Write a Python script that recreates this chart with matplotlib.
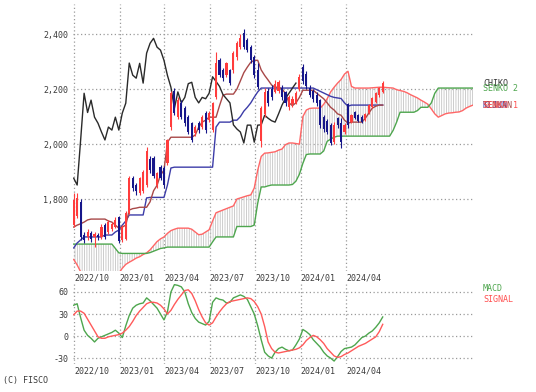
import pandas as pd
import numpy as np
import matplotlib
matplotlib.use("Agg")
import matplotlib.pyplot as plt
from matplotlib.transforms import blended_transform_factory

# ---------------------------------------------------
# weekly data, first bar = week of 2022-09-30
# ---------------------------------------------------
START = pd.Timestamp("2022-09-30")
SHIFT = 25          # lag / lead of chiko and senkou spans (weeks)

opens = [1705, 1740, 1790, 1670, 1660, 1675, 1660, 1670, 1660, 1705,
         1680, 1690, 1700, 1735, 1652, 1655, 1750, 1875, 1850, 1822,
         1830, 1850, 1945, 1949, 1850, 1916, 1913, 1931, 2062, 2195,
         2098, 2149, 2131, 2098, 2076, 2040, 2076, 2062, 2113, 2087,
         2051, 2171, 2305, 2269, 2251, 2269, 2269, 2316, 2353, 2403,
         2378, 2353, 2316, 2269, 2010, 2110, 2195, 2200, 2190, 2195,
         2205, 2190, 2135, 2145, 2150, 2200, 2280, 2255, 2205, 2195,
         2180, 2160, 2098, 2085, 2069, 2007, 2094, 2076, 2044, 2145,
         2080, 2116, 2105, 2100, 2090, 2113, 2134, 2153, 2178, 2189]
highs = [1822, 1822, 1800, 1680, 1690, 1685, 1680, 1678, 1710, 1712,
         1722, 1718, 1735, 1740, 1705, 1755, 1885, 1885, 1858, 1880,
         1905, 1990, 1955, 1955, 1900, 1925, 1920, 2020, 2195, 2205,
         2170, 2160, 2140, 2105, 2082, 2070, 2085, 2105, 2120, 2120,
         2155, 2335, 2315, 2278, 2300, 2275, 2340, 2375, 2400, 2420,
         2385, 2360, 2325, 2294, 2140, 2205, 2205, 2215, 2235, 2235,
         2215, 2195, 2180, 2175, 2195, 2255, 2290, 2265, 2215, 2200,
         2190, 2165, 2105, 2090, 2075, 2080, 2100, 2095, 2075, 2150,
         2110, 2120, 2110, 2105, 2115, 2145, 2170, 2190, 2208, 2230]
lows = [1698, 1730, 1651, 1640, 1650, 1645, 1625, 1650, 1655, 1655,
        1672, 1682, 1695, 1640, 1645, 1650, 1745, 1830, 1815, 1815,
        1822, 1845, 1895, 1875, 1840, 1870, 1840, 1925, 2050, 2105,
        2090, 2090, 2065, 2035, 2007, 2030, 2040, 2055, 2040, 2080,
        2045, 2165, 2245, 2230, 2245, 2215, 2260, 2305, 2345, 2345,
        2335, 2295, 2240, 2200, 1990, 2100, 2140, 2160, 2185, 2185,
        2160, 2140, 2125, 2135, 2145, 2195, 2220, 2200, 2170, 2155,
        2140, 2060, 2045, 2035, 1995, 2000, 2060, 1985, 2035, 2060,
        2075, 2090, 2080, 2075, 2085, 2108, 2130, 2148, 2172, 2185]
closes = [1796, 1805, 1660, 1652, 1680, 1655, 1672, 1660, 1700, 1662,
          1716, 1710, 1724, 1648, 1700, 1750, 1875, 1840, 1830, 1876,
          1898, 1975, 1905, 1885, 1895, 1876, 1851, 2015, 2185, 2115,
          2160, 2098, 2076, 2044, 2015, 2062, 2051, 2098, 2051, 2113,
          2149, 2295, 2251, 2240, 2294, 2222, 2331, 2367, 2385, 2353,
          2342, 2305, 2250, 2207, 2130, 2190, 2150, 2170, 2220, 2225,
          2170, 2150, 2170, 2165, 2185, 2245, 2228, 2210, 2180, 2165,
          2150, 2070, 2055, 2044, 2004, 2069, 2069, 2007, 2069, 2070,
          2105, 2094, 2085, 2080, 2110, 2142, 2167, 2185, 2204, 2222]

tenkan = [1698, 1705, 1710, 1716, 1724, 1727, 1727, 1727, 1727, 1727,
          1720, 1716, 1705, 1694, 1698, 1705, 1760, 1765, 1767, 1770,
          1770, 1770, 1790, 1830, 1850, 1887, 1905, 2007, 2025, 2025,
          2025, 2025, 2025, 2025, 2025, 2033, 2062, 2080, 2087, 2098,
          2098, 2098, 2140, 2178, 2182, 2182, 2182, 2200, 2230, 2260,
          2280, 2298, 2305, 2305, 2270, 2250, 2233, 2215, 2207, 2207,
          2200, 2185, 2150, 2140, 2150, 2170, 2196, 2196, 2196, 2196,
          2185, 2175, 2165, 2150, 2134, 2124, 2110, 2105, 2087, 2076,
          2080, 2080, 2080, 2080, 2094, 2113, 2131, 2138, 2142, 2142]
kijun = [1622, 1640, 1651, 1662, 1662, 1662, 1662, 1662, 1662, 1669,
         1669, 1669, 1680, 1687, 1705, 1720, 1742, 1742, 1742, 1742,
         1742, 1804, 1806, 1806, 1806, 1806, 1806, 1851, 1913, 1916,
         1916, 1916, 1916, 1916, 1916, 1916, 1916, 1916, 1916, 1916,
         1916, 2062, 2080, 2080, 2080, 2080, 2087, 2087, 2100, 2120,
         2134, 2150, 2171, 2190, 2204, 2204, 2204, 2204, 2204, 2204,
         2204, 2204, 2204, 2204, 2204, 2204, 2204, 2204, 2204, 2204,
         2198, 2192, 2186, 2180, 2174, 2170, 2168, 2166, 2150, 2138,
         2142, 2142, 2142, 2142, 2142, 2142, 2142, 2142, 2142, 2142]
senkou1 = [1580, 1560, 1535, 1525, 1520, 1520, 1520, 1520, 1520, 1520,
           1520, 1520, 1520, 1530, 1548, 1562, 1570, 1577, 1585, 1590,
           1598, 1604, 1615, 1630, 1645, 1655, 1662, 1675, 1685, 1690,
           1694, 1694, 1694, 1694, 1690, 1680, 1670, 1672, 1680, 1688,
           1720, 1750, 1755, 1760, 1765, 1770, 1775, 1800, 1804, 1808,
           1812, 1815, 1840, 1905, 1955, 1967, 1968, 1970, 1972, 1978,
           1982, 1998, 2004, 2004, 2002, 2000, 2100, 2124, 2130, 2131,
           2131, 2131, 2145, 2165, 2190, 2207, 2222, 2235, 2255, 2265,
           2210, 2204, 2204, 2204, 2204, 2204, 2205, 2206, 2207, 2207,
           2206, 2205, 2204, 2198, 2195, 2192, 2187, 2180, 2174, 2168,
           2160, 2153, 2145, 2128, 2110, 2098, 2104, 2110, 2113, 2114,
           2116, 2117, 2122, 2131, 2137, 2142]
senkou2 = [1636, 1636, 1636, 1636, 1636, 1636, 1636, 1636, 1636, 1636,
           1636, 1636, 1620, 1604, 1602, 1602, 1602, 1602, 1602, 1602,
           1602, 1602, 1605, 1610, 1615, 1620, 1622, 1625, 1625, 1625,
           1625, 1625, 1625, 1625, 1625, 1625, 1625, 1625, 1625, 1625,
           1644, 1662, 1662, 1662, 1662, 1662, 1662, 1700, 1700, 1700,
           1700, 1700, 1705, 1785, 1844, 1844, 1848, 1851, 1851, 1851,
           1851, 1851, 1851, 1853, 1865, 1890, 1930, 1962, 1964, 1964,
           1964, 1964, 1975, 2010, 2018, 2025, 2029, 2029, 2029, 2029,
           2029, 2029, 2029, 2029, 2029, 2029, 2029, 2029, 2029, 2029,
           2029, 2029, 2050, 2080, 2116, 2116, 2116, 2116, 2116, 2122,
           2134, 2134, 2134, 2150, 2185, 2204, 2204, 2204, 2204, 2204,
           2204, 2204, 2204, 2204, 2204, 2204]

macd = [42, 44, 25, 8, 1, -3, -8, -3, -1, 1,
        3, 5, 8, 4, -2, 14, 28, 38, 42, 44,
        45, 52, 48, 43, 38, 30, 22, 33, 60, 70,
        69, 67, 60, 44, 32, 24, 19, 17, 15, 20,
        46, 52, 50, 49, 45, 46, 52, 54, 56, 54,
        50, 40, 30, 14, -5, -22, -27, -30, -22, -17,
        -15, -18, -20, -19, -12, -4, 9, 6, 2, -5,
        -10, -15, -22, -27, -30, -34, -28, -21, -17, -16,
        -15, -12, -7, -2, 0, 4, 7, 12, 18, 26]
signal = [29, 34, 34, 31, 23, 15, 7, -1, -3, -3,
          -1, 0, 1, 2, 4, 8, 13, 20, 28, 34,
          39, 44, 46, 46, 45, 42, 37, 30, 35, 43,
          50, 56, 62, 63, 58, 48, 36, 26, 18, 15,
          18, 26, 33, 39, 44, 47, 48, 49, 50, 51,
          52, 51, 47, 40, 30, 13, -8, -17, -22, -23,
          -22, -21, -20, -19, -18, -16, -12, -6, -2, 1,
          -1, -5, -10, -17, -22, -27, -29, -28, -25, -23,
          -20, -17, -14, -12, -10, -7, -4, -1, 6, 16]

date_ticks = ["2022-10-01", "2023-01-01", "2023-04-01", "2023-07-01",
              "2023-10-01", "2024-01-01", "2024-04-01"]

# ---------------------------------------------------
UP_COLOR = "#ff3c3c"
DOWN_COLOR = "#16168a"
TEXT_COLOR = "#3a3a3a"
GRID_KW = dict(color="#9a9a9a", linestyle=(0, (1, 2)), linewidth=0.9)
FONT = "DejaVu Sans Mono"


def week_pos(d):
    return (pd.Timestamp(d) - START).days / 7.0


def style_axis(ax, xmax):
    for s in ax.spines.values():
        s.set_visible(False)
    ax.set_xlim(-0.2, xmax)
    ax.tick_params(length=0, labelsize=6, colors=TEXT_COLOR)
    ax.grid(True, **GRID_KW)
    ax.set_axisbelow(True)
    pos = [week_pos(d) for d in date_ticks]
    ax.set_xticks(pos)
    ax.set_xticklabels([pd.Timestamp(d).strftime("%Y/%m") for d in date_ticks],
                       ha="left", family=FONT)
    for lab in ax.get_yticklabels():
        lab.set_family(FONT)


def main():
    plt.rcParams["hatch.linewidth"] = 0.6
    n = len(closes)
    x = np.arange(n)
    xs = np.arange(len(senkou1))
    xmax = len(senkou1) - 1

    fig = plt.figure(figsize=(5.36, 3.92), dpi=100)
    ax = fig.add_axes([73 / 536, 1 - 271 / 392, 400 / 536, 267 / 392])
    ax2 = fig.add_axes([73 / 536, 1 - 364 / 392, 400 / 536, 82 / 392])

    # cloud
    ax.fill_between(xs, senkou1, senkou2, facecolor="none", edgecolor="#c4c4c4",
                    hatch="|||||||", linewidth=0, zorder=1)
    ax.plot(xs, senkou1, color="#ff6666", lw=1.0, zorder=2)
    ax.plot(xs, senkou2, color="#4ea64e", lw=1.0, zorder=2)
    ax.plot(x, kijun, color="#3c3ca8", lw=1.0, zorder=3)
    ax.plot(x, tenkan, color="#a84848", lw=1.0, zorder=3)
    ax.plot(x[SHIFT:] - SHIFT, closes[SHIFT:], color="#2a2a2a", lw=1.0, zorder=3)

    # candles
    o = np.array(opens)
    c = np.array(closes)
    colors = np.where(c >= o, UP_COLOR, DOWN_COLOR)
    ax.vlines(x, lows, highs, colors=colors, lw=0.8, zorder=4)
    ax.bar(x, np.abs(c - o), bottom=np.minimum(o, c), width=0.62,
           color=colors, linewidth=0, zorder=5)

    ax.set_ylim(1538, 2510)
    ax.set_yticks([1800, 2000, 2200, 2400])
    ax.set_yticklabels(["1,800", "2,000", "2,200", "2,400"])
    style_axis(ax, xmax)
    ax.tick_params(axis="x", pad=1.5)
    ax.tick_params(axis="y", pad=3.5)

    # right side labels at last values
    tr = blended_transform_factory(ax.transAxes, ax.transData)
    lab_kw = dict(transform=tr, fontsize=6, family=FONT, va="center",
                  clip_on=False)
    ax.text(1.025, closes[-1], "CHIKO", color="#333333", **lab_kw)
    ax.text(1.025, senkou2[-1], "SENKO 2", color="#4ea64e", **lab_kw)
    ax.text(1.025, kijun[-1], "KIJUN", color="#3c3ca8", **lab_kw)
    ax.text(1.025, tenkan[-1], "TENKAN", color="#a84848", **lab_kw)
    ax.text(1.025, senkou1[-1], "SENKO 1", color="#ff5050", **lab_kw)

    # MACD panel
    ax2.plot(x, macd, color="#4ea64e", lw=1.0)
    ax2.plot(x, signal, color="#ff5a5a", lw=1.0)
    ax2.set_ylim(-38, 73.6)
    ax2.set_yticks([-30, 0, 30, 60])
    ax2.set_yticklabels(["-30", "0", "30", "60"])
    style_axis(ax2, xmax)
    ax2.tick_params(axis="x", pad=1.5)
    ax2.tick_params(axis="y", pad=3.5)
    ax2.text(1.025, 0.915, "MACD", transform=ax2.transAxes, fontsize=6,
             family=FONT, color="#4ea64e", va="center")
    ax2.text(1.025, 0.79, "SIGNAL", transform=ax2.transAxes, fontsize=6,
             family=FONT, color="#ff5050", va="center")

    fig.text(3 / 536, 1 - 381 / 392, "(C) FISCO", fontsize=6, family=FONT,
             color=TEXT_COLOR, va="center")

    fig.savefig("out.png", dpi=100)


if __name__ == "__main__":
    main()
